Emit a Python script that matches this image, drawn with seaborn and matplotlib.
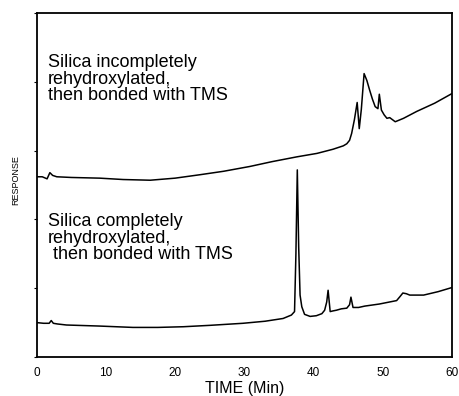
import matplotlib
matplotlib.use("Agg")
import matplotlib.pyplot as plt
import seaborn as sns
import pandas as pd

# Trace 1: silica incompletely rehydroxylated (upper)
t_incomplete = [0.0, 0.8, 1.5, 1.9, 2.3, 2.9, 5.0, 9.1, 12.5, 16.4, 20.0, 23.6, 27.0, 30.8,
                34.0, 37.6, 40.5, 42.8, 44.3, 44.8, 45.2, 45.5, 45.9, 46.3, 46.6, 46.9,
                47.3, 47.7, 48.1, 48.5, 48.9, 49.3, 49.5, 49.8, 50.2, 50.6, 51.0, 51.4,
                51.8, 53.0, 54.9, 57.5, 60.0]
r_incomplete = [2.62, 2.62, 2.59, 2.68, 2.64, 2.62, 2.61, 2.60, 2.58, 2.57, 2.60, 2.65, 2.70, 2.77,
                2.84, 2.91, 2.96, 3.02, 3.07, 3.10, 3.15, 3.25, 3.45, 3.70, 3.32, 3.60,
                4.12, 4.02, 3.88, 3.75, 3.64, 3.61, 3.82, 3.59, 3.52, 3.47, 3.48, 3.45,
                3.42, 3.47, 3.57, 3.69, 3.83]

# Trace 2: silica completely rehydroxylated (lower)
t_complete = [0.0, 1.0, 1.8, 2.1, 2.4, 3.0, 4.3, 9.0, 13.9, 17.5, 21.2, 25.0, 29.8, 33.0,
              35.6, 36.8, 37.25, 37.45, 37.65, 37.85, 38.05, 38.3, 38.7, 39.5, 40.4,
              41.2, 41.6, 41.9, 42.1, 42.4, 42.8, 43.3, 44.0, 44.8, 45.2, 45.4, 45.7,
              46.5, 47.4, 49.5, 52.0, 52.5, 52.9, 53.4, 53.9, 55.9, 58.0, 60.0]
r_complete = [0.50, 0.49, 0.49, 0.53, 0.49, 0.48, 0.465, 0.45, 0.43, 0.43, 0.44, 0.46, 0.49, 0.52,
              0.56, 0.61, 0.66, 1.50, 2.72, 1.60, 0.90, 0.73, 0.62, 0.59, 0.60,
              0.63, 0.68, 0.80, 0.97, 0.66, 0.67, 0.68, 0.70, 0.71, 0.76, 0.87, 0.72,
              0.72, 0.74, 0.77, 0.82, 0.88, 0.93, 0.92, 0.90, 0.90, 0.95, 1.01]

x_ticks = [0, 10, 20, 30, 40, 50, 60]
label_incomplete = "Silica incompletely\nrehydroxylated,\nthen bonded with TMS"
label_complete = "Silica completely\nrehydroxylated,\n then bonded with TMS"

df = pd.concat([
    pd.DataFrame({"time": t_incomplete, "response": r_incomplete, "trace": "incomplete"}),
    pd.DataFrame({"time": t_complete, "response": r_complete, "trace": "complete"}),
])

sns.set_style("ticks")
plt.rcParams["font.family"] = ["Liberation Sans", "DejaVu Sans"]
plt.rcParams["text.color"] = "black"
plt.rcParams["axes.labelcolor"] = "black"
plt.rcParams["xtick.color"] = "black"
plt.rcParams["ytick.color"] = "black"

fig = plt.figure(figsize=(4.6, 3.96), dpi=100)
ax = fig.add_axes([0.0798, 0.0985, 0.9028, 0.8685])

sns.lineplot(data=df, x="time", y="response", units="trace", estimator=None,
             color="black", linewidth=1.1, ax=ax, sort=False)

ax.set_xlim(0, 60)
ax.set_ylim(0, 5)
ax.set_xticks(x_ticks)
ax.set_xticklabels([str(v) for v in x_ticks], fontsize=8.5)
ax.set_yticks([0, 1, 2, 3, 4, 5])
ax.set_yticklabels([])
ax.tick_params(axis="x", length=0, pad=7.5)
ax.tick_params(axis="y", length=2.5, width=0.8, direction="out")
for s in ax.spines.values():
    s.set_visible(True)
    s.set_linewidth(1.3)
    s.set_color("black")

ax.set_xlabel("TIME (Min)", fontsize=11.5, labelpad=1.5)
ax.set_ylabel("")
fig.text(0.034, 0.545, "RESPONSE", rotation=90, fontsize=6.5, ha="center", va="center")

ax.text(1.6, 4.40, label_incomplete, fontsize=13, ha="left", va="top", linespacing=0.95)
ax.text(1.6, 2.09, label_complete, fontsize=13, ha="left", va="top", linespacing=0.95)

fig.savefig("out.png", dpi=100)
